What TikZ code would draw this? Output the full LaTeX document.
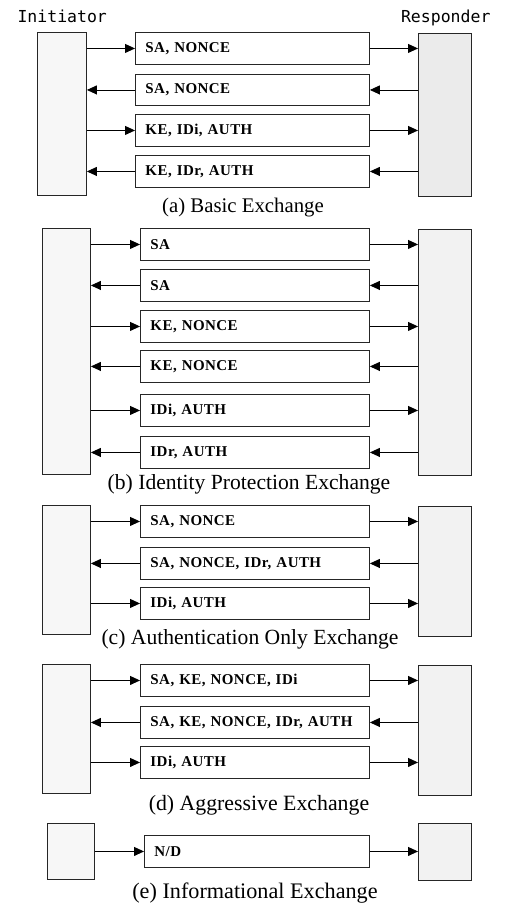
\documentclass[tikz,border=0pt]{standalone}
\usepackage{fontspec}
\setmainfont{Liberation Serif}
\newfontfamily\lblfont{DejaVu Sans Mono}
\newfontfamily\msgfont[LetterSpace=3]{Liberation Serif}
\usetikzlibrary{arrows.meta}
\begin{document}
\begin{tikzpicture}[x=1pt,y=-1pt,
  side/.style={draw=black!85, line width=0.9pt, rectangle, inner sep=0pt, anchor=north west},
  iside/.style={side, fill=black!3},
  rside/.style={side, fill=black!5},
  msg/.style={draw=black!85, line width=0.9pt, rectangle, anchor=north west, inner xsep=10pt, inner ysep=0pt,
    text width=#1, minimum height=32pt, align=left, font=\msgfont\bfseries\fontsize{15}{17}\selectfont},
  msg/.default=209pt,
  arr/.style={line width=0.9pt, -{Triangle[length=10pt,width=9pt]}},
  captext/.style={anchor=base, font=\fontsize{#1}{24}\selectfont},
  captext/.default=21,
  role/.style={anchor=base, font=\lblfont\fontsize{16.5}{18}\selectfont}]
\useasboundingbox (0,0) rectangle (506,905);

\node[role, anchor=base west] (tinit) at (14,22) {Initiator};
\node[role, anchor=base east] (tresp) at (494,22) {Responder};

% (a) Basic Exchange
\node[iside, minimum width=49pt, minimum height=163pt] (ia) at (37,32) {};
\node[rside, fill=black!8, minimum width=53pt, minimum height=163pt] (ra) at (418,33) {};
\node[msg=214pt] (a1) at (135,32) {SA, NONCE};
\node[msg=214pt, minimum height=31pt] (a2) at (135,74) {SA, NONCE};
\node[msg=214pt] (a3) at (135,114) {KE, IDi, AUTH};
\node[msg=214pt] (a4) at (135,155) {KE, IDr, AUTH};
\draw[arr] (ia.east |- a1.west) -- (a1.west);
\draw[arr] (a1.east) -- (ra.west |- a1.east);
\draw[arr] (a2.west) -- (ia.east |- a2.west);
\draw[arr] (ra.west |- a2.east) -- (a2.east);
\draw[arr] (ia.east |- a3.west) -- (a3.west);
\draw[arr] (a3.east) -- (ra.west |- a3.east);
\draw[arr] (a4.west) -- (ia.east |- a4.west);
\draw[arr] (ra.west |- a4.east) -- (a4.east);
\node[captext=20.8] (capa) at (243,212) {(a) Basic Exchange};

% (b) Identity Protection Exchange
\node[iside, minimum width=48pt, minimum height=246pt] (ib) at (42,228) {};
\node[rside, minimum width=53pt, minimum height=246pt] (rb) at (418,229) {};
\node[msg] (b1) at (140,228) {SA};
\node[msg] (b2) at (140,269) {SA};
\node[msg] (b3) at (140,310) {KE, NONCE};
\node[msg] (b4) at (140,350) {KE, NONCE};
\node[msg] (b5) at (140,394) {IDi, AUTH};
\node[msg] (b6) at (140,436) {IDr, AUTH};
\foreach \r in {b1,b3,b5}{
  \draw[arr] (ib.east |- \r.west) -- (\r.west);
  \draw[arr] (\r.east) -- (rb.west |- \r.east);
}
\foreach \l in {b2,b4,b6}{
  \draw[arr] (\l.west) -- (ib.east |- \l.west);
  \draw[arr] (rb.west |- \l.east) -- (\l.east);
}
\node[captext=21.6] (capb) at (249,489) {(b) Identity Protection Exchange};

% (c) Authentication Only Exchange
\node[iside, minimum width=48pt, minimum height=129pt] (ic) at (42,505) {};
\node[rside, minimum width=53pt, minimum height=130pt] (rc) at (418,506) {};
\node[msg] (c1) at (140,505) {SA, NONCE};
\node[msg] (c2) at (140,547) {SA, NONCE, IDr, AUTH};
\node[msg] (c3) at (140,587) {IDi, AUTH};
\foreach \r in {c1,c3}{
  \draw[arr] (ic.east |- \r.west) -- (\r.west);
  \draw[arr] (\r.east) -- (rc.west |- \r.east);
}
\draw[arr] (c2.west) -- (ic.east |- c2.west);
\draw[arr] (rc.west |- c2.east) -- (c2.east);
\node[captext=21.6] (capc) at (250,644) {(c) Authentication Only Exchange};

% (d) Aggressive Exchange
\node[iside, minimum width=48pt, minimum height=129pt] (id) at (42,664) {};
\node[rside, minimum width=53pt, minimum height=130pt] (rd) at (418,665) {};
\node[msg] (d1) at (140,664) {SA, KE, NONCE, IDi};
\node[msg] (d2) at (140,706) {SA, KE, NONCE, IDr, AUTH};
\node[msg] (d3) at (140,746) {IDi, AUTH};
\foreach \r in {d1,d3}{
  \draw[arr] (id.east |- \r.west) -- (\r.west);
  \draw[arr] (\r.east) -- (rd.west |- \r.east);
}
\draw[arr] (d2.west) -- (id.east |- d2.west);
\draw[arr] (rd.west |- d2.east) -- (d2.east);
\node[captext=21.8] (capd) at (259,810) {(d) Aggressive Exchange};

% (e) Informational Exchange
\node[iside, minimum width=47pt, minimum height=56pt] (ie) at (47,823) {};
\node[rside, minimum width=53pt, minimum height=57pt] (re) at (418,823) {};
\node[msg=205pt] (e1) at (144,835) {N/D};
\draw[arr] (ie.east |- e1.west) -- (e1.west);
\draw[arr] (e1.east) -- (re.west |- e1.east);
\node[captext=22.2] (cape) at (255,898) {(e) Informational Exchange};
\end{tikzpicture}
\end{document}
